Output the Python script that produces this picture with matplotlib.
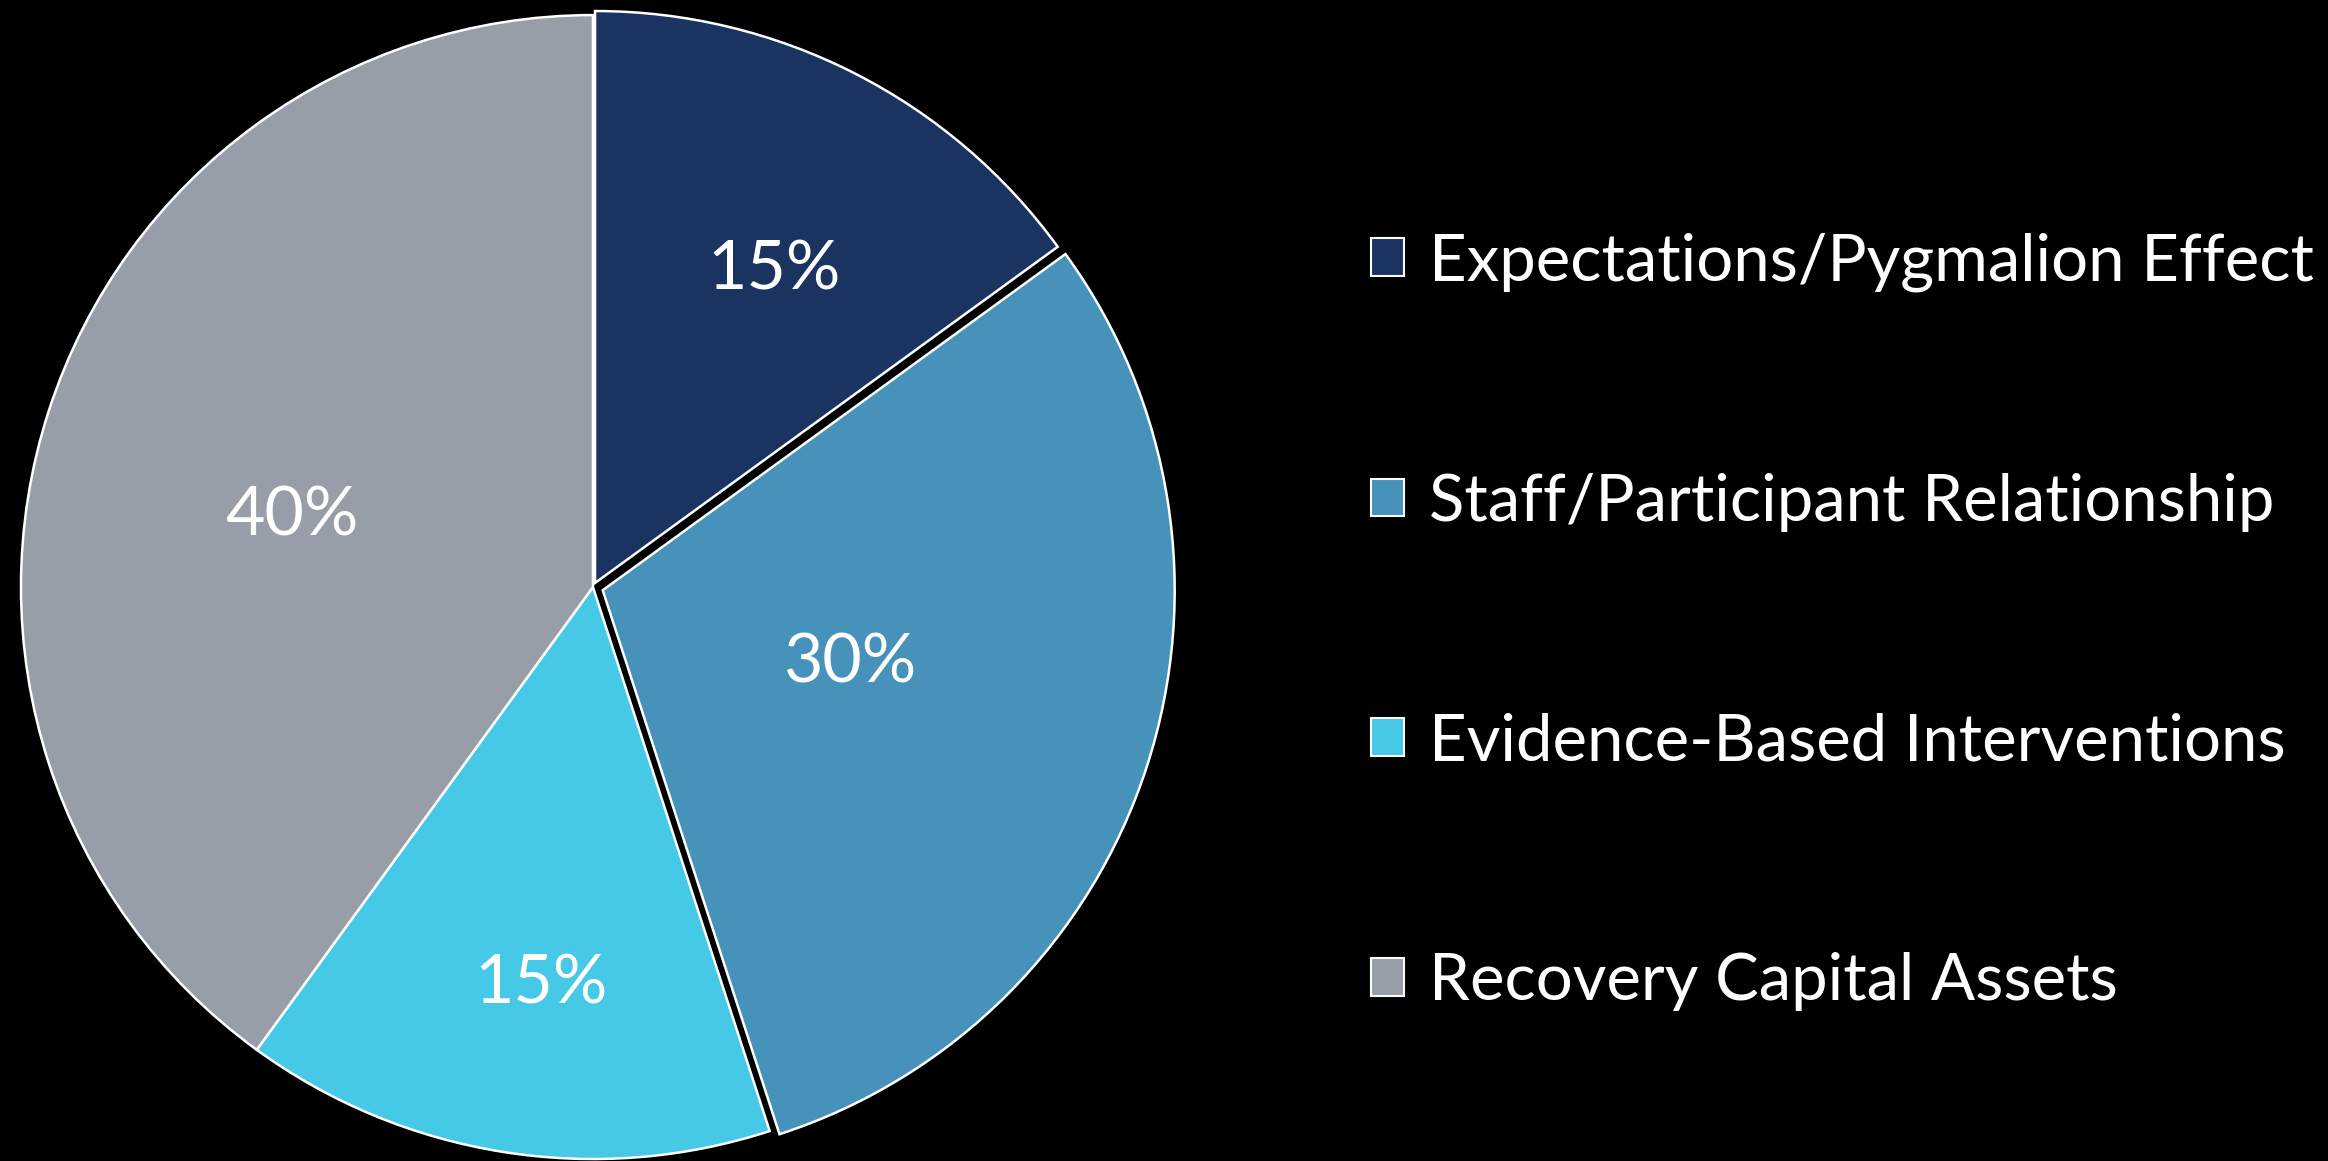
import matplotlib.pyplot as plt
import matplotlib.patches as mpatches
import numpy as np

plt.rcParams['font.family'] = ['Lato', 'DejaVu Sans']

# Chart data
categories = ['Expectations/Pygmalion Effect', 'Staff/Participant Relationship',
              'Evidence-Based Interventions', 'Recovery Capital Assets']
shares = [15, 30, 15, 40]
pct_labels = ['15%', '30%', '15%', '40%']

# Styling
colors = ['#1b3360', '#4792ba', '#45c9e7', '#979ea7']
explode = [0.008, 0.018, 0, 0]
label_dist = [0.63, 0.45, 0.70, 0.54]
label_turn = [-2.8, 1.5, 1.6, 4.8]   # degrees off the wedge bisector

fig = plt.figure(figsize=(23.28, 11.61), dpi=100, facecolor='black')
ax = fig.add_axes([0.0090, 0.0017, 0.4914, 0.9853])
ax.set_facecolor('black')

wedges, _ = ax.pie(shares, colors=colors, explode=explode, startangle=90,
                   counterclock=False, radius=1.0,
                   wedgeprops=dict(edgecolor='white', linewidth=1.8))
for w in wedges:
    w.set_clip_on(False)

# Percent labels placed near each wedge's bisector
for w, lab, d, t in zip(wedges, pct_labels, label_dist, label_turn):
    mid = np.deg2rad((w.theta1 + w.theta2) / 2 + t)
    cx, cy = w.center
    ax.text(cx + d * np.cos(mid), cy + d * np.sin(mid), lab,
            ha='center', va='center', color='white', fontsize=49)

ax.set_xlim(-1, 1)
ax.set_ylim(-1, 1)
ax.axis('off')

handles = [mpatches.Patch(facecolor=c, edgecolor='white', linewidth=1.5) for c in colors]
leg = fig.legend(handles, categories, loc='upper left', bbox_to_anchor=(0.589, 0.800),
                 frameon=False, fontsize=47, labelcolor='white',
                 handlelength=0.51, handleheight=0.51, handletextpad=0.37,
                 labelspacing=2.77, borderaxespad=0, borderpad=0)

fig.savefig('out.png', dpi=100, facecolor='black')
